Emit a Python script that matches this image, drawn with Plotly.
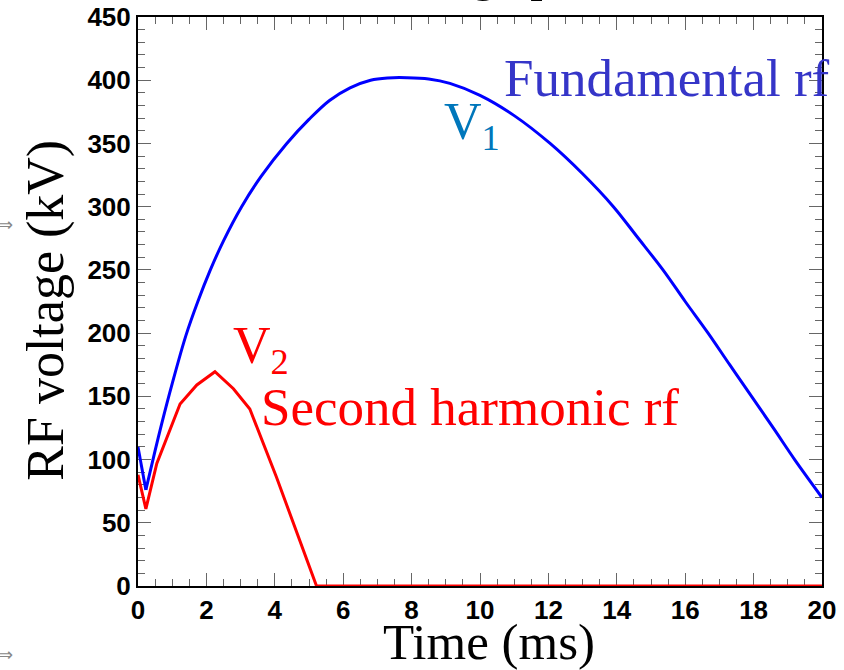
import plotly.graph_objects as go

# Fundamental rf voltage V1 (kV) versus time (ms)
t_v1 = [0.0, 0.23, 0.5, 0.69, 1.0, 1.4, 1.75, 2.1, 2.5, 3.03, 3.6, 4.35, 5.0, 5.6,
        6.2, 6.8, 7.3, 7.86, 8.5, 9.12, 10.0, 11.0, 12.05, 13.0, 13.9, 14.6,
        15.35, 16.0, 16.67, 17.3, 17.94, 18.6, 19.2, 20.0]
v1 = [110, 76, 107, 128, 160, 198, 225, 249, 273, 300, 324, 350, 369, 384,
      394, 400, 401.8, 402, 401, 397.5, 388, 372, 350, 326, 300, 276,
      250, 225, 200, 175, 150, 124, 100, 70]

# Second harmonic rf voltage V2 (kV) versus time (ms)
t_v2 = [0.0, 0.23, 0.55, 1.23, 1.72, 2.25, 2.79, 3.27, 4.05, 5.22, 20.0]
v2 = [88, 61, 97, 144, 159, 169.5, 156, 140, 86, 0, 0]

x_ticks = list(range(0, 21, 2))
y_ticks = list(range(0, 451, 50))

SERIF = "Liberation Serif"
SANS = "Liberation Sans"

fig = go.Figure()
# V1: straight drop to the first minimum, smooth arc afterwards
fig.add_trace(go.Scatter(x=t_v1[:2], y=v1[:2], mode="lines",
                         line=dict(color="#0000ff", width=3), showlegend=False))
fig.add_trace(go.Scatter(x=t_v1[1:], y=v1[1:], mode="lines",
                         line=dict(color="#0000ff", width=3, shape="spline", smoothing=1.0),
                         showlegend=False))
fig.add_trace(go.Scatter(x=t_v2, y=v2, mode="lines", line=dict(color="#ff0000", width=3),
                         showlegend=False))

axis_common = dict(
    showgrid=False, zeroline=False, showline=True, linecolor="black", linewidth=2,
    mirror="allticks", ticks="inside", tickcolor="#666666", tickwidth=1,
    tickfont=dict(family=SANS, size=26, color="black", weight="bold"),
    layer="below traces", automargin=False,
)
fig.update_xaxes(range=[0, 20], tickvals=x_ticks, ticklen=13,
                 minor=dict(dtick=0.5, ticklen=7, ticks="inside", tickcolor="#666666"),
                 **axis_common)
fig.update_yaxes(range=[0, 450], tickvals=y_ticks, ticklen=13,
                 minor=dict(dtick=10, ticklen=7, ticks="inside", tickcolor="#666666"),
                 **axis_common)

ann = []
ann.append(dict(text="Fundamental rf", x=10.65, y=388, xref="x", yref="y", xanchor="left",
                yanchor="bottom", yshift=-14, showarrow=False,
                font=dict(family=SERIF, size=53, color="#3535c8")))
ann.append(dict(text="V<sub>1</sub>", x=8.9, y=348, xref="x", yref="y", xanchor="left",
                yanchor="bottom", yshift=-14, showarrow=False,
                font=dict(family=SERIF, size=52, color="#0077bb")))
ann.append(dict(text="V<sub>2</sub>", x=2.72, y=170, xref="x", yref="y", xanchor="left",
                yanchor="bottom", yshift=-13, showarrow=False,
                font=dict(family=SERIF, size=52, color="#ff0000")))
ann.append(dict(text="Second harmonic rf", x=3.55, y=128, xref="x", yref="y", xanchor="left",
                yanchor="bottom", yshift=-14, showarrow=False,
                font=dict(family=SERIF, size=53, color="#ff0000")))
ann.append(dict(text="Time (ms)", x=0.513, y=-0.045, xref="paper", yref="paper", xanchor="center",
                yanchor="top", showarrow=False,
                font=dict(family=SERIF, size=51, color="black")))
ann.append(dict(text="RF voltage (kV)", x=-0.135, y=0.485, xref="paper", yref="paper",
                xanchor="center", yanchor="middle", textangle=-90, showarrow=False,
                font=dict(family=SERIF, size=52, color="black")))
ann.append(dict(text="RF voltage profile", x=0.5, y=1.0, xref="paper", yref="paper",
                xanchor="center", yanchor="bottom", yshift=14, showarrow=False,
                font=dict(family=SERIF, size=50, color="black")))
for yp in (0.635, -0.12):
    ann.append(dict(text="⇒", x=-0.207, y=yp, xref="paper", yref="paper", xanchor="left",
                    yanchor="middle", showarrow=False,
                    font=dict(family="DejaVu Sans", size=18, color="#888888")))

fig.update_layout(
    width=844, height=670, margin=dict(l=138, r=22, t=17, b=84),
    paper_bgcolor="white", plot_bgcolor="white", annotations=ann,
)

fig.write_html("out.html")
